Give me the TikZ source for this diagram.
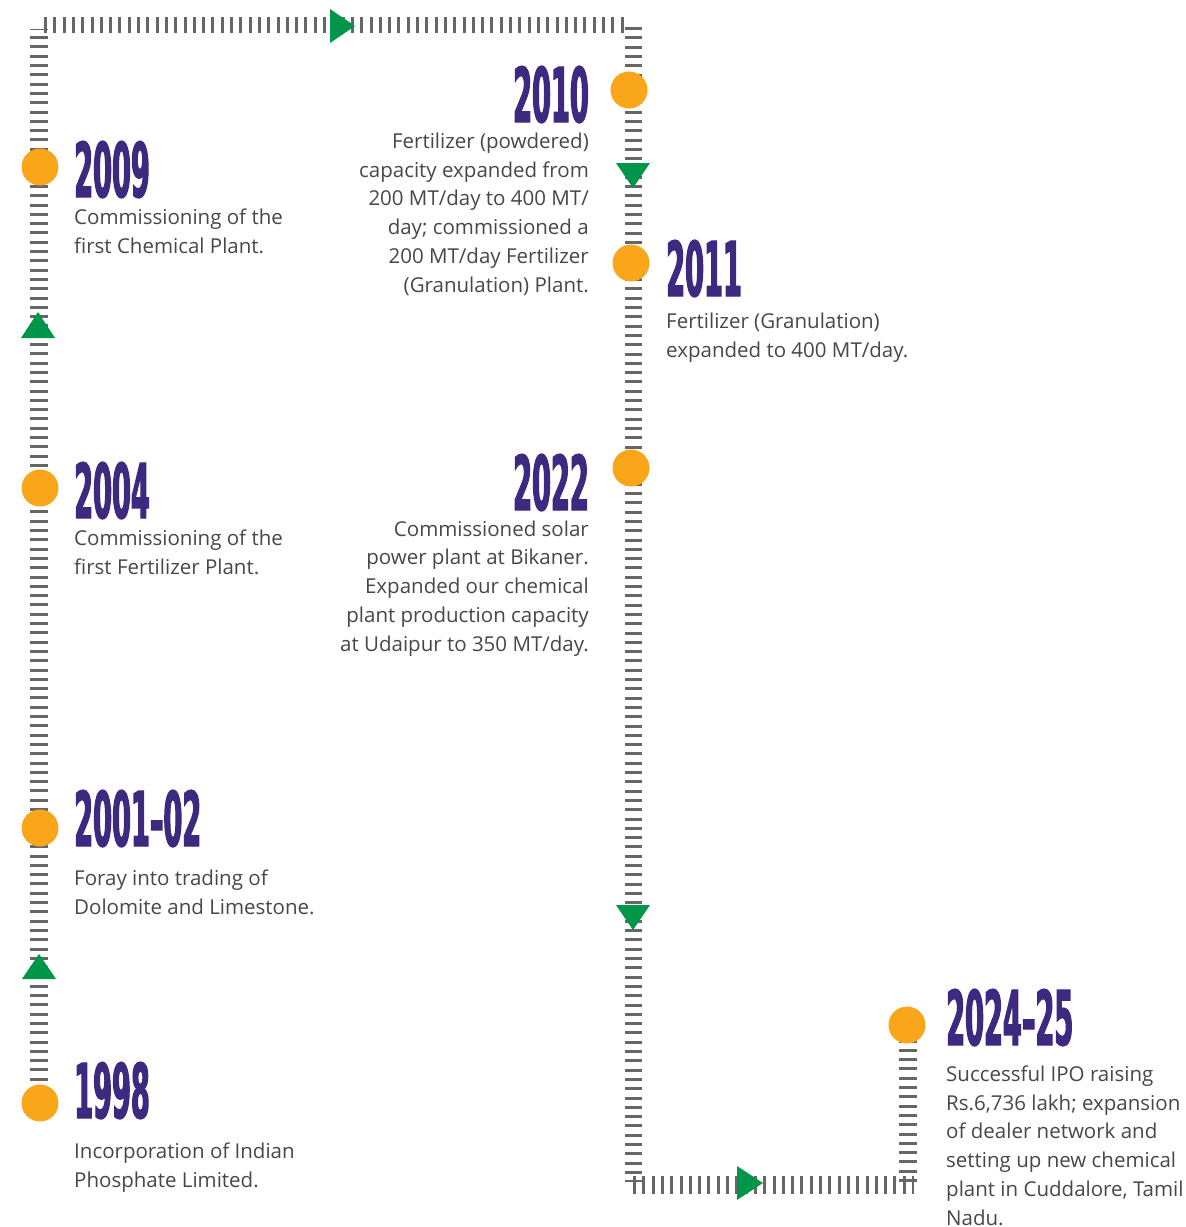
\documentclass[tikz,border=0pt]{standalone}
\usepackage{fontspec}
\setmainfont{Open Sans}
\newfontface\yearfont[FakeStretch=0.36,FakeBold=1.5]{DejaVu Sans Bold}
\definecolor{trackgray}{HTML}{666666}
\definecolor{dotorange}{HTML}{FAA61A}
\definecolor{arrowgreen}{HTML}{00964A}
\definecolor{yearpurple}{HTML}{3D2A80}
\definecolor{bodygray}{HTML}{474747}
\begin{document}
\begin{tikzpicture}[x=1pt,y=-1pt,
  track/.style={draw=trackgray,line width=#1,dash pattern=on 3pt off 6.3pt},
  dot/.style={circle,fill=dotorange,minimum size=37pt,inner sep=0pt},
  year/.style={inner sep=0pt,text depth=0pt,text=yearpurple,font=\yearfont\fontsize{75.5}{75.5}\selectfont},
  body/.style={inner sep=0pt,text=bodygray,font=\fontsize{20.5}{28.7}\selectfont},
  tri/.style={fill=arrowgreen}]
\useasboundingbox (0,0) rectangle (1186,1227);
% track coordinates
\coordinate (lb) at (39,1090);
\coordinate (lt) at (39,29);
\coordinate (tl) at (44,25);
\coordinate (tr) at (628,25);
\coordinate (rt) at (633,27);
\coordinate (rb) at (633,1182);
\coordinate (bl) at (633,1185);
\coordinate (br) at (914,1185);
\coordinate (fb) at (908,1182);
\coordinate (ft) at (908,1040);
\draw[track=18pt] (lb) -- (lt);
\draw[track=16pt] (tl) -- (tr);
\draw[track=17pt] (rt) -- (rb);
\draw[track=18pt] (bl) -- (br);
\draw[track=18pt] (fb) -- (ft);
% arrowheads
\coordinate (a1) at (355,26);
\coordinate (a2) at (38,312);
\coordinate (a3) at (39,954);
\coordinate (a4) at (633,188);
\coordinate (a5) at (633,930);
\coordinate (a6) at (763,1183);
\fill[tri] (a1) ++(-25,-17) -- (a1) -- ++(-25,17) -- cycle;
\fill[tri] (a2) ++(-17,26) -- (a2) -- ++(17,26) -- cycle;
\fill[tri] (a3) ++(-17,25) -- (a3) -- ++(17,25) -- cycle;
\fill[tri] (a4) ++(-17,-25) -- (a4) -- ++(17,-25) -- cycle;
\fill[tri] (a5) ++(-17,-25) -- (a5) -- ++(17,-25) -- cycle;
\fill[tri] (a6) ++(-26,-17) -- (a6) -- ++(-26,17) -- cycle;
% dots
\node[dot] (d2009) at (40,167) {};
\node[dot] (d2004) at (40,488) {};
\node[dot] (d2001) at (40,828) {};
\node[dot] (d1998) at (40,1103) {};
\node[dot] (d2010) at (629,90) {};
\node[dot] (d2011) at (631,263) {};
\node[dot] (d2022) at (631,468) {};
\node[dot] (d2024) at (907,1025) {};
% years
\node[year,anchor=base west] (y2009) at (74,197) {2009};
\node[year,anchor=base west] (y2004) at (74,518) {2004};
\node[year,anchor=base west] (y2001) at (74,846) {2001–02};
\node[year,anchor=base west] (y1998) at (74,1118) {1998};
\node[year,anchor=base east] (y2010) at (589,122) {2010};
\node[year,anchor=base west] (y2011) at (666,296) {2011};
\node[year,anchor=base east] (y2022) at (589,510) {2022};
\node[year,anchor=base west] (y2024) at (946,1045) {2024–25};
% descriptions (anchor = baseline of last line)
\node[body,align=left,anchor=base west] (t2009) at (74,253) {Commissioning of the\\first Chemical Plant.};
\node[body,align=left,anchor=base west] (t2004) at (74,574) {Commissioning of the\\first Fertilizer Plant.};
\node[body,align=left,anchor=base west] (t2001) at (74,914) {Foray into trading of\\Dolomite and Limestone.};
\node[body,align=left,anchor=base west] (t1998) at (74,1187) {Incorporation of Indian\\Phosphate Limited.};
\node[body,align=right,anchor=base east] (t2010) at (589,292) {Fertilizer (powdered)\\capacity expanded from\\200 MT/day to 400 MT/\\day; commissioned a\\200 MT/day Fertilizer\\(Granulation) Plant.};
\node[body,align=left,anchor=base west] (t2011) at (666,357) {Fertilizer (Granulation)\\expanded to 400 MT/day.};
\node[body,align=right,anchor=base east] (t2022) at (589,651) {Commissioned solar\\power plant at Bikaner.\\Expanded our chemical\\plant production capacity\\at Udaipur to 350 MT/day.};
\node[body,align=left,anchor=base west] (t2024) at (946,1225) {Successful IPO raising\\Rs.6,736 lakh; expansion\\of dealer network and\\setting up new chemical\\plant in Cuddalore, Tamil\\Nadu.};
\end{tikzpicture}
\end{document}
